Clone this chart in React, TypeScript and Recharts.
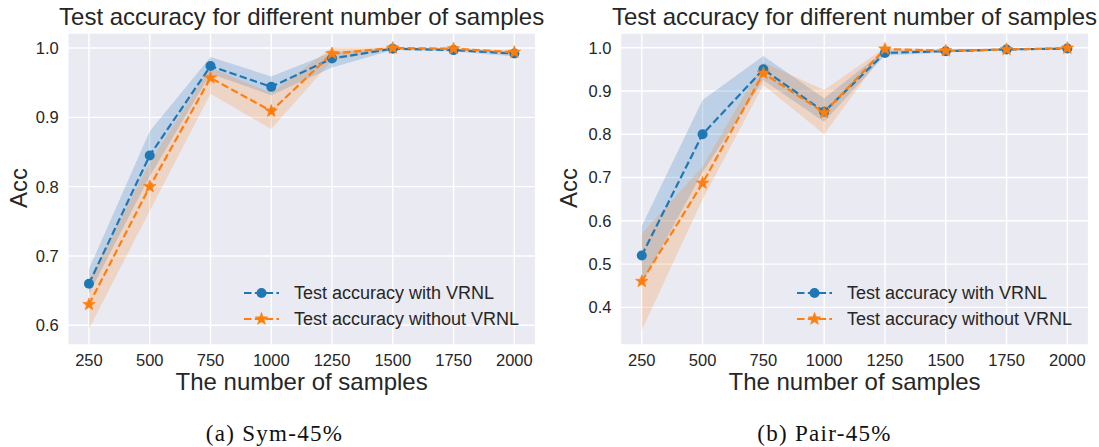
import React from 'react';
import { ComposedChart, Line, Area, XAxis, YAxis, CartesianGrid } from 'recharts';

const SAMPLES = [250, 500, 750, 1000, 1250, 1500, 1750, 2000];

// Sym-45%
const SYM_WITH = [0.660, 0.845, 0.974, 0.944, 0.985, 0.999, 0.997, 0.992];
const SYM_WITH_LO = [0.645, 0.815, 0.963, 0.932, 0.972, 0.997, 0.995, 0.988];
const SYM_WITH_HI = [0.681, 0.880, 0.987, 0.959, 0.994, 1.001, 0.999, 0.995];
const SYM_WITHOUT = [0.630, 0.800, 0.957, 0.909, 0.992, 1.000, 0.999, 0.994];
const SYM_WITHOUT_LO = [0.595, 0.765, 0.934, 0.883, 0.982, 0.999, 0.997, 0.992];
const SYM_WITHOUT_HI = [0.665, 0.835, 0.972, 0.935, 1.001, 1.001, 1.001, 0.996];

// Pair-45%
const PAIR_WITH = [0.520, 0.800, 0.950, 0.852, 0.988, 0.992, 0.996, 0.998];
const PAIR_WITH_LO = [0.455, 0.712, 0.925, 0.829, 0.982, 0.989, 0.994, 0.996];
const PAIR_WITH_HI = [0.588, 0.879, 0.981, 0.883, 0.994, 0.995, 0.998, 1.000];
const PAIR_WITHOUT = [0.460, 0.687, 0.941, 0.850, 0.997, 0.993, 0.996, 0.999];
const PAIR_WITHOUT_LO = [0.347, 0.650, 0.914, 0.800, 0.992, 0.990, 0.994, 0.997];
const PAIR_WITHOUT_HI = [0.570, 0.725, 0.966, 0.902, 1.000, 0.996, 0.998, 1.001];

const SYM_TICKS = [0.6, 0.7, 0.8, 0.9, 1.0];
const PAIR_TICKS = [0.4, 0.5, 0.6, 0.7, 0.8, 0.9, 1.0];

const BLUE = '#1f77b4';
const ORANGE = '#ff7f0e';
const BG = '#eaeaf2';
const INK = '#262626';
const SANS = '"Liberation Sans", Arial, sans-serif';
const SERIF = '"Liberation Serif", serif';
const DASH = '7.5 3.3';

const buildRows = (w: number[], wLo: number[], wHi: number[], wo: number[], woLo: number[], woHi: number[]) =>
  SAMPLES.map((n, i) => ({
    n,
    withAcc: w[i],
    withBand: [wLo[i], wHi[i]],
    withoutAcc: wo[i],
    withoutBand: [woLo[i], woHi[i]],
  }));

function starPath(cx: number, cy: number, ro: number, ri: number) {
  const pts: string[] = [];
  for (let k = 0; k < 10; k++) {
    const r = k % 2 === 0 ? ro : ri;
    const a = -Math.PI / 2 + (k * Math.PI) / 5;
    pts.push(`${(cx + r * Math.cos(a)).toFixed(2)},${(cy + r * Math.sin(a)).toFixed(2)}`);
  }
  return `M${pts.join('L')}Z`;
}

function Star({ cx, cy, size = 6.6 }: { cx?: number; cy?: number; size?: number }) {
  if (cx == null || cy == null) return null;
  return <path d={starPath(cx, cy, size, size * 0.42)} fill={ORANGE} stroke={ORANGE} strokeWidth={0.6} />;
}

function LegendBox({ left, top }: { left: number; top: number }) {
  const row = (label: string, color: string, marker: 'o' | '*') => (
    <div style={{ display: 'flex', alignItems: 'center', height: 26 }}>
      <svg width={35} height={14} style={{ marginRight: 15, overflow: 'visible' }}>
        <line x1={0} y1={7} x2={35} y2={7} stroke={color} strokeWidth={2.2} strokeDasharray={DASH} />
        {marker === 'o' ? <circle cx={17.5} cy={7} r={5} fill={color} /> : <Star cx={17.5} cy={7} />}
      </svg>
      <span style={{ fontFamily: SANS, fontSize: 18, color: INK, whiteSpace: 'nowrap' }}>{label}</span>
    </div>
  );
  return (
    <div style={{ position: 'absolute', left, top }}>
      {row('Test accuracy with VRNL', BLUE, 'o')}
      {row('Test accuracy without VRNL', ORANGE, '*')}
    </div>
  );
}

interface PanelProps {
  left: number;
  rows: ReturnType<typeof buildRows>;
  yDomain: [number, number];
  yTicks: number[];
  yAxisWidth: number;
  rightMargin: number;
  legendLeft: number;
  caption: string;
}

function Panel({ left, rows, yDomain, yTicks, yAxisWidth, rightMargin, legendLeft, caption }: PanelProps) {
  const width = 549;
  const plotLeft = yAxisWidth;
  const plotWidth = width - yAxisWidth - rightMargin;
  return (
    <div style={{ position: 'absolute', left, top: 0, width, height: 447 }}>
      <div style={{ position: 'absolute', left: plotLeft - 40, width: plotWidth + 80, top: 5, textAlign: 'center',
        fontFamily: SANS, fontSize: 24, lineHeight: 1, color: INK, whiteSpace: 'nowrap' }}>
        Test accuracy for different number of samples
      </div>
      <ComposedChart width={width} height={400} data={rows}
        margin={{ top: 33, right: rightMargin, bottom: 0, left: 0 }}>
        <CartesianGrid fill={BG} stroke="#ffffff" strokeWidth={1.4} />
        <XAxis dataKey="n" type="number" domain={[162.5, 2087.5]} ticks={SAMPLES} allowDataOverflow
          height={55} axisLine={false} tickLine={false} tickSize={0} tickMargin={9}
          tick={{ fill: INK, fontSize: 16.5, fontFamily: SANS }} />
        <YAxis type="number" domain={yDomain} ticks={yTicks} allowDataOverflow width={yAxisWidth}
          axisLine={false} tickLine={false} tickSize={0} tickMargin={9}
          tick={{ fill: INK, fontSize: 16.5, fontFamily: SANS }} tickFormatter={(v: number) => v.toFixed(1)} />
        <Area dataKey="withBand" type="linear" stroke="none" fill={BLUE} fillOpacity={0.22}
          isAnimationActive={false} activeDot={false} />
        <Line dataKey="withAcc" type="linear" stroke={BLUE} strokeWidth={2.2} strokeDasharray={DASH}
          dot={{ r: 5, fill: BLUE, stroke: BLUE, strokeWidth: 0, strokeDasharray: '' }}
          activeDot={false} isAnimationActive={false} />
        <Area dataKey="withoutBand" type="linear" stroke="none" fill={ORANGE} fillOpacity={0.2}
          isAnimationActive={false} activeDot={false} />
        <Line dataKey="withoutAcc" type="linear" stroke={ORANGE} strokeWidth={2.2} strokeDasharray={DASH}
          dot={(p: any) => <Star key={`s-${p.index}`} cx={p.cx} cy={p.cy} />}
          activeDot={false} isAnimationActive={false} />
      </ComposedChart>
      <LegendBox left={legendLeft} top={280} />
      <div style={{ position: 'absolute', left: plotLeft, width: plotWidth, top: 370, textAlign: 'center',
        fontFamily: SANS, fontSize: 24, lineHeight: 1, color: INK, whiteSpace: 'nowrap' }}>
        The number of samples
      </div>
      <div style={{ position: 'absolute', left: 19, top: 188, transform: 'translate(-50%, -50%) rotate(-90deg)',
        fontFamily: SANS, fontSize: 24, lineHeight: 1, color: INK, whiteSpace: 'nowrap' }}>
        Acc
      </div>
      <div style={{ position: 'absolute', left: 0, width: 549, top: 422, textAlign: 'center',
        fontFamily: SERIF, fontSize: 23, letterSpacing: 1.3, lineHeight: 1, color: '#111', whiteSpace: 'nowrap' }}>
        {caption}
      </div>
    </div>
  );
}

const symRows = buildRows(SYM_WITH, SYM_WITH_LO, SYM_WITH_HI, SYM_WITHOUT, SYM_WITHOUT_LO, SYM_WITHOUT_HI);
const pairRows = buildRows(PAIR_WITH, PAIR_WITH_LO, PAIR_WITH_HI, PAIR_WITHOUT, PAIR_WITHOUT_LO, PAIR_WITHOUT_HI);

export default function App() {
  return (
    <div style={{ position: 'relative', width: 1099, height: 447, background: '#fff', overflow: 'hidden' }}>
      <style>{'body{margin:0}'}</style>
      <Panel left={0} rows={symRows} yDomain={[0.5715, 1.0217]} yTicks={SYM_TICKS} yAxisWidth={67.7}
        rightMargin={13.4} legendLeft={244} caption="(a) Sym-45%" />
      <Panel left={550} rows={pairRows} yDomain={[0.313, 1.034]} yTicks={PAIR_TICKS} yAxisWidth={70.5}
        rightMargin={10.4} legendLeft={247} caption="(b) Pair-45%" />
    </div>
  );
}
